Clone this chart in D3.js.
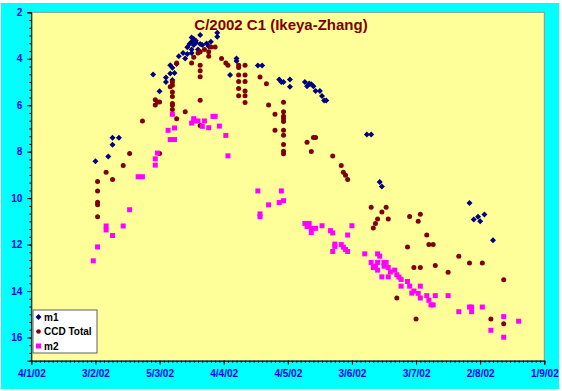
<!DOCTYPE html>
<html><head><meta charset="utf-8">
<script src="https://cdn.jsdelivr.net/npm/d3@7"></script>
<style>body{margin:0;background:#fff}svg{display:block}text{font-family:Arial,"Liberation Sans",sans-serif;font-weight:bold}</style>
</head><body><svg id="c" width="562" height="391"></svg>
<script>
const title = "C/2002 C1 (Ikeya-Zhang)";
const seriesNames = ["m1", "CCD Total", "m2"];
const xTickLabels = ["4/1/02","3/2/02","5/3/02","4/4/02","4/5/02","3/6/02","3/7/02","2/8/02","1/9/02"];
const yTicks = [2,4,6,8,10,12,14,16];
const yDomain = [2,17];

const m1 = [
["2002-02-03",8.41],["2002-02-09",8.21],["2002-02-11",7.70],["2002-02-11",7.40],["2002-02-14",7.40],
["2002-03-02",4.68],["2002-03-05",5.40],["2002-03-08",4.81],["2002-03-08",5.00],["2002-03-10",4.28],["2002-03-10",4.64],["2002-03-11",4.39],["2002-03-11",4.92],["2002-03-12",4.61],["2002-03-13",4.23],
["2002-03-14",3.89],["2002-03-16",3.75],["2002-03-17",3.99],["2002-03-18",3.51],["2002-03-18",3.80],["2002-03-19",3.37],["2002-03-20",3.08],["2002-03-20",3.27],["2002-03-20",3.60],["2002-03-20",3.75],["2002-03-21",3.15],["2002-03-21",3.41],["2002-03-22",3.23],["2002-03-22",3.31],["2002-03-23",3.60],["2002-03-24",2.98],["2002-03-24",3.37],["2002-03-25",3.41],["2002-03-27",3.34],["2002-03-28",3.46],["2002-03-29",3.27],["2002-04-01",2.88],["2002-04-01",3.05],
["2002-04-07",4.70],["2002-04-10",3.99],["2002-04-10",4.10],["2002-04-20",4.29],["2002-04-22",4.29],["2002-04-30",4.89],["2002-05-01",5.00],["2002-05-02",5.00],["2002-05-05",4.89],["2002-05-05",5.21],["2002-05-12",5.00],["2002-05-13",5.18],["2002-05-14",5.07],["2002-05-15",5.10],["2002-05-16",5.18],["2002-05-17",5.39],["2002-05-19",5.39],["2002-05-20",5.60],["2002-05-21",5.80],["2002-05-22",5.80],
["2002-06-10",7.26],["2002-06-12",7.26],["2002-06-16",9.31],["2002-06-17",9.50],
["2002-07-28",10.21],["2002-07-30",10.92],["2002-08-01",10.80],["2002-08-02",11.00],["2002-08-04",10.71],["2002-08-08",11.81]
];

const ccd = [
["2002-02-04",9.29],["2002-02-04",9.69],["2002-02-04",10.18],["2002-02-04",10.29],["2002-02-04",10.80],
["2002-02-08",8.89],["2002-02-11",9.20],["2002-02-16",8.60],["2002-02-19",8.08],["2002-02-25",6.68],
["2002-03-03",5.76],["2002-03-03",5.99],["2002-03-04",5.86],["2002-03-05",5.86],["2002-03-05",8.08],
["2002-03-10",5.21],["2002-03-11",5.00],["2002-03-11",5.14],["2002-03-11",5.43],["2002-03-11",5.62],["2002-03-11",5.93],["2002-03-11",6.00],["2002-03-11",6.19],
["2002-03-13",4.18],["2002-03-13",6.58],["2002-03-17",6.28],["2002-03-20",4.18],["2002-03-21",3.94],["2002-03-23",3.75],["2002-03-24",3.70],["2002-03-24",4.28],["2002-03-24",4.52],["2002-03-24",4.78],["2002-03-24",5.79],["2002-03-24",6.87],
["2002-03-26",3.60],["2002-03-28",3.70],["2002-03-28",3.89],["2002-03-29",3.49],["2002-03-31",3.49],["2002-04-03",3.99],["2002-04-05",4.18],["2002-04-06",4.28],
["2002-04-11",4.28],["2002-04-11",4.38],["2002-04-11",4.70],["2002-04-11",4.98],["2002-04-11",5.28],["2002-04-11",5.59],
["2002-04-14",4.28],["2002-04-14",4.70],["2002-04-14",4.98],["2002-04-14",5.39],["2002-04-14",5.59],["2002-04-14",5.88],
["2002-04-21",4.79],["2002-04-24",5.08],["2002-04-25",5.99],["2002-04-28",6.39],["2002-04-28",7.08],
["2002-05-02",5.87],["2002-05-02",6.28],["2002-05-02",6.48],["2002-05-02",6.58],["2002-05-02",6.70],["2002-05-02",7.08],["2002-05-02",7.29],["2002-05-02",7.69],["2002-05-02",7.98],["2002-05-02",8.09],
["2002-05-13",7.59],["2002-05-15",7.99],["2002-05-16",7.39],["2002-05-17",7.39],["2002-05-25",8.19],["2002-05-29",8.60],["2002-05-30",8.89],["2002-05-31",9.02],["2002-06-01",9.20],
["2002-06-12",10.39],["2002-06-13",11.29],["2002-06-14",11.09],["2002-06-15",10.90],["2002-06-17",10.60],["2002-06-19",10.39],["2002-06-20",10.90],["2002-06-24",14.30],
["2002-06-29",12.10],["2002-06-30",10.79],["2002-07-02",12.99],["2002-07-03",15.21],["2002-07-04",11.00],["2002-07-05",10.70],["2002-07-05",12.99],["2002-07-08",11.59],["2002-07-09",12.00],["2002-07-11",12.00],["2002-07-12",12.90],["2002-07-18",13.19],["2002-07-23",12.50],["2002-07-28",12.79],["2002-08-03",12.79],["2002-08-07",15.21],["2002-08-13",13.51],["2002-08-13",15.41]
];

const m2 = [
["2002-02-02",12.70],["2002-02-04",12.10],["2002-02-08",11.20],["2002-02-08",11.37],["2002-02-11",11.61],["2002-02-16",11.20],["2002-02-19",10.50],["2002-02-23",9.08],["2002-02-25",9.08],
["2002-03-03",8.31],["2002-03-03",8.58],["2002-03-04",8.06],["2002-03-09",7.08],["2002-03-10",7.48],["2002-03-11",6.39],["2002-03-12",6.98],["2002-03-12",7.48],["2002-03-20",6.77],["2002-03-21",6.58],["2002-03-21",6.68],["2002-03-23",6.68],["2002-03-25",6.91],["2002-03-26",6.68],["2002-03-28",6.97],["2002-03-30",6.48],["2002-03-31",6.48],["2002-04-02",6.90],["2002-04-05",7.30],["2002-04-06",8.18],
["2002-04-20",9.69],["2002-04-21",10.68],["2002-04-21",10.80],["2002-04-25",10.29],["2002-04-30",10.19],["2002-05-01",9.69],["2002-05-02",10.11],
["2002-05-12",11.09],["2002-05-13",11.22],["2002-05-14",11.09],["2002-05-15",11.30],["2002-05-15",11.48],["2002-05-17",11.30],["2002-05-20",11.19],["2002-05-24",11.40],["2002-05-25",11.50],["2002-05-25",12.30],["2002-05-26",11.98],["2002-05-26",12.08],["2002-05-29",12.00],["2002-05-30",12.11],["2002-05-31",12.21],["2002-06-01",11.59],["2002-06-01",12.30],["2002-06-03",11.19],
["2002-06-09",12.40],["2002-06-12",12.77],["2002-06-13",12.99],["2002-06-14",12.93],["2002-06-15",12.40],["2002-06-15",12.77],["2002-06-15",13.10],["2002-06-16",12.50],["2002-06-17",13.39],["2002-06-18",12.77],["2002-06-18",12.93],["2002-06-19",12.77],["2002-06-20",12.99],["2002-06-20",13.39],["2002-06-21",13.18],["2002-06-23",13.10],["2002-06-24",13.30],["2002-06-25",13.40],["2002-06-26",13.50],["2002-06-26",13.79],["2002-06-29",13.59],["2002-06-30",13.79],["2002-07-01",14.09],["2002-07-02",14.00],["2002-07-04",14.10],["2002-07-05",13.79],["2002-07-05",14.30],["2002-07-08",14.20],["2002-07-09",14.40],["2002-07-10",14.60],["2002-07-11",14.60],["2002-07-12",14.20],["2002-07-18",14.20],["2002-07-23",14.89],["2002-07-28",14.69],["2002-07-29",14.69],["2002-07-29",14.89],["2002-08-03",14.69],["2002-08-07",15.69],["2002-08-13",15.10],["2002-08-13",15.99],["2002-08-20",15.30]
];

const parseD = d3.timeParse("%Y-%m-%d");
const parseT = d3.timeParse("%d/%m/%y");
const tickDates = xTickLabels.map(parseT);

const svg = d3.select("#c");
const P = {l: 31.3, r: 544.3, t: 12.3, b: 360.7};

svg.append("rect").attr("x",1).attr("y",3).attr("width",558).attr("height",386).attr("fill","#00ffff");
svg.append("rect").attr("x",P.l).attr("y",P.t).attr("width",P.r-P.l).attr("height",P.b-P.t)
  .attr("fill","#ffff99").attr("stroke","#909090").attr("stroke-width",1);

const x = d3.scaleTime().domain([tickDates[0], tickDates[tickDates.length-1]]).range([P.l, P.r]);
const y = d3.scaleLinear().domain(yDomain).range([P.t, P.b]);

// minor ticks
const xMinor = d3.timeDay.every(2).range ? d3.range(0, 241, 2).map(d => d3.timeDay.offset(tickDates[0], d)) : [];
const yMinor = d3.range(yDomain[0], yDomain[1] + 0.001, 1/3);

const gx = svg.append("g").attr("transform", `translate(0,${P.b})`);
gx.call(d3.axisBottom(x).tickValues(xMinor).tickSize(2).tickFormat(""));
gx.call(g => g.select(".domain").remove());
const gx2 = svg.append("g").attr("transform", `translate(0,${P.b})`);
gx2.call(d3.axisBottom(x).tickValues(tickDates).tickSize(4).tickPadding(5)
  .tickFormat((d,i) => xTickLabels[i]));
gx2.selectAll(".domain").attr("stroke","#000");
gx2.selectAll("text").attr("fill","#0000ee").style("font-size","10px").style("font-weight","bold")
  .style("font-family","Arial, 'Liberation Sans', sans-serif");

const gy = svg.append("g").attr("transform", `translate(${P.l},0)`);
gy.call(d3.axisLeft(y).tickValues(yMinor).tickSize(2).tickFormat(""));
gy.call(g => g.select(".domain").remove());
const gy2 = svg.append("g").attr("transform", `translate(${P.l},0)`);
gy2.call(d3.axisLeft(y).tickValues(yTicks).tickSize(4).tickPadding(5).tickFormat(d3.format("d")));
gy2.selectAll(".domain").attr("stroke","#000");
gy2.selectAll("text").attr("fill","#0000ee").style("font-size","10px").style("font-weight","bold")
  .style("font-family","Arial, 'Liberation Sans', sans-serif");

svg.append("text").attr("x",281).attr("y",30).attr("text-anchor","middle")
  .attr("fill","#800000").style("font-size","15px").text(title);

const diamond = (cx,cy) => `M${cx},${cy-3}L${cx+3},${cy}L${cx},${cy+3}L${cx-3},${cy}Z`;

const plot = svg.append("g");
plot.selectAll("path.m1").data(m1).join("path").attr("class","m1")
  .attr("d", d => diamond(x(parseD(d[0])), y(d[1]))).attr("fill","#000080");
plot.selectAll("circle.ccd").data(ccd).join("circle").attr("class","ccd")
  .attr("cx", d => x(parseD(d[0]))).attr("cy", d => y(d[1])).attr("r",2.5).attr("fill","#800000");
plot.selectAll("rect.m2").data(m2).join("rect").attr("class","m2")
  .attr("x", d => x(parseD(d[0])) - 2.5).attr("y", d => y(d[1]) - 2.5)
  .attr("width",5).attr("height",5).attr("fill","#ff00ff");

// legend
const lg = svg.append("g");
lg.append("rect").attr("x",33).attr("y",310).attr("width",64).attr("height",43)
  .attr("fill","#fff").attr("stroke","#606060").attr("stroke-width",1);
const ly = [317, 331.5, 346];
lg.append("path").attr("d", diamond(38.5, ly[0])).attr("fill","#000080").attr("transform","");
lg.append("circle").attr("cx",38.5).attr("cy",ly[1]).attr("r",2.3).attr("fill","#800000");
lg.append("rect").attr("x",36).attr("y",ly[2]-2.5).attr("width",5).attr("height",5).attr("fill","#ff00ff");
seriesNames.forEach((n,i) => lg.append("text").attr("x",44).attr("y",ly[i]+3.6)
  .attr("fill","#000").style("font-size","10px").text(n));
</script></body></html>
